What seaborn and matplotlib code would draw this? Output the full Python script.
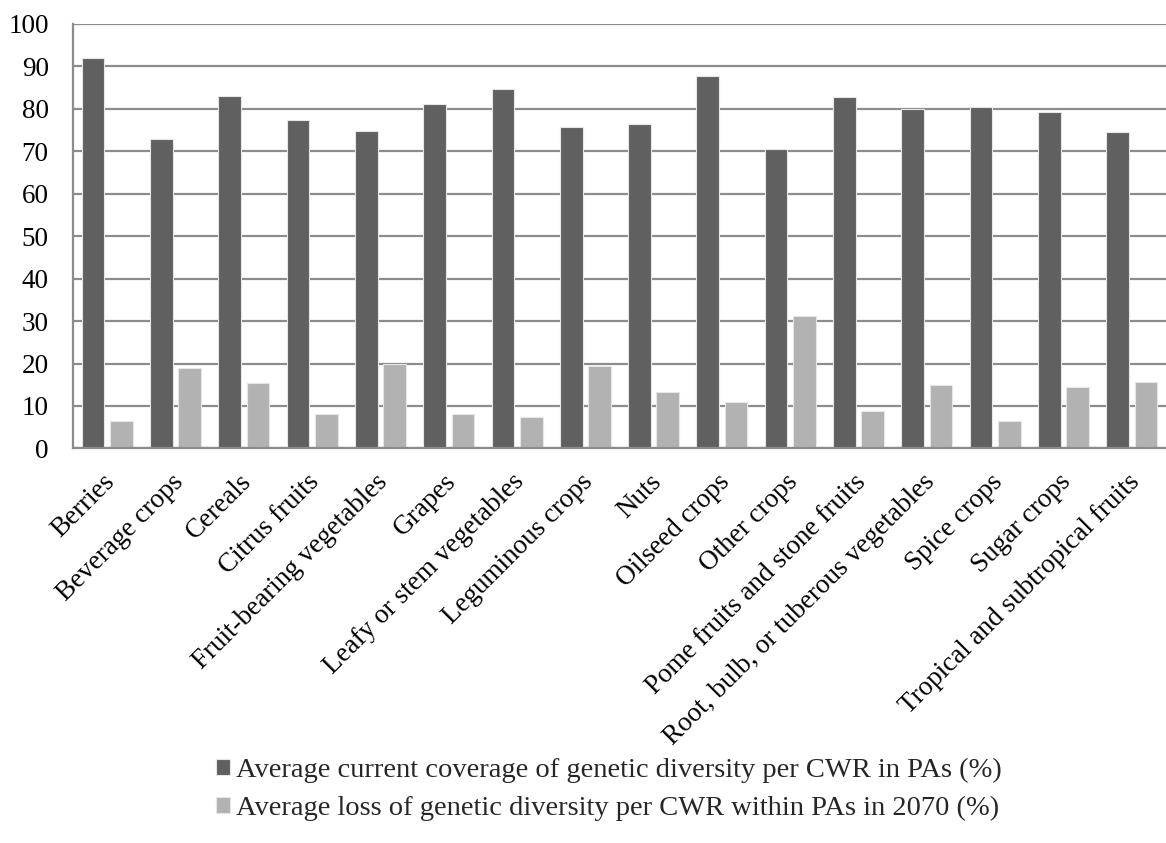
import matplotlib
matplotlib.use("Agg")
import matplotlib.pyplot as plt
import matplotlib.transforms as mtransforms
import seaborn as sns
import pandas as pd

categories = [
    "Berries", "Beverage crops", "Cereals", "Citrus fruits",
    "Fruit-bearing vegetables", "Grapes", "Leafy or stem vegetables",
    "Leguminous crops", "Nuts", "Oilseed crops", "Other crops",
    "Pome fruits and stone fruits", "Root, bulb, or tuberous vegetables",
    "Spice crops", "Sugar crops", "Tropical and subtropical fruits",
]
coverage = [91.8, 72.9, 83.0, 77.3, 74.8, 81.0, 84.6, 75.7,
            76.4, 87.6, 70.5, 82.8, 79.8, 80.4, 79.1, 74.5]
loss_2070 = [6.4, 18.9, 15.5, 8.2, 19.8, 8.1, 7.3, 19.5,
             13.4, 10.9, 31.2, 8.9, 14.9, 6.5, 14.5, 15.7]
series_names = [
    "Average current coverage of genetic diversity per CWR in PAs (%)",
    "Average loss of genetic diversity per CWR within PAs in 2070 (%)",
]
yticks = [0, 10, 20, 30, 40, 50, 60, 70, 80, 90, 100]

df = pd.DataFrame({
    "category": categories * 2,
    "value": coverage + loss_2070,
    "series": [series_names[0]] * len(categories) + [series_names[1]] * len(categories),
})

sns.set_theme(style="white")
plt.rcParams["font.family"] = ["Liberation Serif", "DejaVu Serif"]

fig = plt.figure(figsize=(11.66, 8.43), dpi=100)
ax = fig.add_axes([0.0626, 0.468, 0.9374, 0.504])

palette = {series_names[0]: "#606060", series_names[1]: "#b2b2b2"}
sns.barplot(data=df, x="category", y="value", hue="series", order=categories,
            hue_order=series_names, palette=palette, width=0.83, gap=0.2,
            edgecolor="#e6e6e6", linewidth=0.8, saturation=1, ax=ax)

ax.set_ylim(0, 100)
ax.set_yticks(yticks)
ax.set_xlim(-0.5, len(categories) - 0.5)
ax.yaxis.grid(True, color="#8c8c8c", linewidth=1.6)
ax.set_axisbelow(True)
ax.set_xlabel("")
ax.set_ylabel("")
ax.tick_params(axis="both", length=0, labelsize=19.5, colors="black")
ax.tick_params(axis="y", pad=17.5)
ax.tick_params(axis="x", pad=15)

# nudge the rotated category labels a little to the left
shift = mtransforms.ScaledTranslation(-5 / 100, 0, fig.dpi_scale_trans)
for lbl in ax.get_xticklabels():
    lbl.set_rotation(45)
    lbl.set_ha("right")
    lbl.set_rotation_mode("anchor")
    lbl.set_transform(lbl.get_transform() + shift)

for side in ["top", "right"]:
    ax.spines[side].set_visible(False)
for side in ["left", "bottom"]:
    ax.spines[side].set_color("#8c8c8c")
    ax.spines[side].set_linewidth(1.6)

handles, labels = ax.get_legend_handles_labels()
ax.get_legend().remove()
fig.legend(handles, labels, loc="lower center", bbox_to_anchor=(0.522, -0.004),
           ncol=1, frameon=False, fontsize=20.5, handlelength=0.5,
           handleheight=0.5, handletextpad=0.2, labelspacing=0.45)

fig.savefig("out.png", dpi=100)
